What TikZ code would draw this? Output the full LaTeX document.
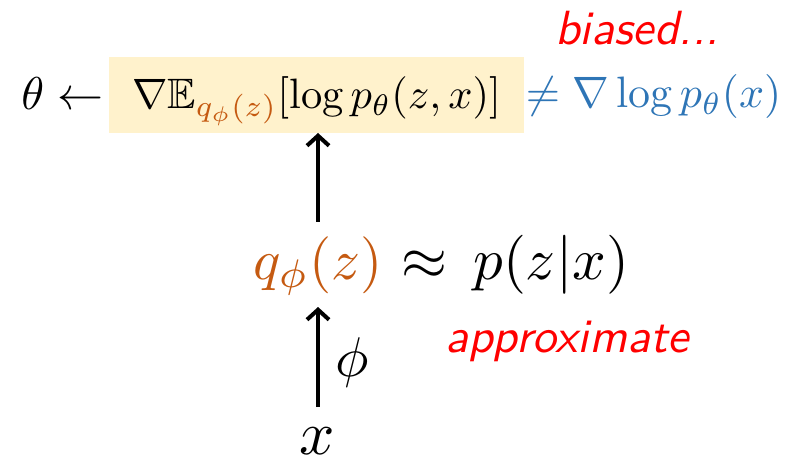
\documentclass[tikz,border=0pt]{standalone}
\usepackage{amsmath,amssymb}
\usepackage{fontspec}
\usetikzlibrary{arrows.meta}
\definecolor{boxyellow}{HTML}{FFF2CC}
\definecolor{qorange}{HTML}{C55A11}
\definecolor{nblue}{HTML}{2E75B6}
\definecolor{hred}{HTML}{FF0000}
\tikzset{
  flowarrow/.style={line width=4pt,-{Straight Barb[length=10pt,width=22pt,line width=4pt]}},
  hand/.style={font=\sffamily\itshape, scale=4.8, text=hred, inner sep=0pt},
  mathtxt/.style={inner sep=0pt},
}
\begin{document}
\begin{tikzpicture}[x=1pt,y=-1pt]
\useasboundingbox (0,0) rectangle (786,462);
\fill[boxyellow] (109,57) rectangle (524,133);
\node[mathtxt, scale=4.25, anchor=base] (grad) at (316.5,109) {$\nabla\mathbb{E}_{\color{qorange}q_\phi(z)}[\log p_\theta(z,x)]$};
\node[mathtxt, scale=4.6, anchor=base east] (theta) at (104,110) {$\theta \leftarrow$};
\node[mathtxt, scale=4.4, anchor=base west, text=nblue] (neq) at (525,108) {$\neq \nabla \log p_\theta(x)$};
\node[hand, anchor=base] (biased) at (637,45) {biased...};
\node[mathtxt, scale=5.7, anchor=base] (q) at (318,279) {$\color{qorange}q_\phi(z)$};
\node[mathtxt, scale=5.9, anchor=base west] (approx) at (q.base east) {$\;\approx\, p(z|x)$};
\node[mathtxt, scale=6.2, anchor=base] (x) at (317,454) {$x$};
\node[mathtxt, scale=5.6] (phi) at (352,362) {$\phi$};
\node[hand, anchor=base] (appr) at (567,352) {approximate};
\coordinate (a1s) at (318,222);
\coordinate (a1e) at (318,133);
\coordinate (a2s) at (318,407);
\coordinate (a2e) at (318,307);
\draw[flowarrow] (a1s) -- (a1e);
\draw[flowarrow] (a2s) -- (a2e);
\end{tikzpicture}
\end{document}
